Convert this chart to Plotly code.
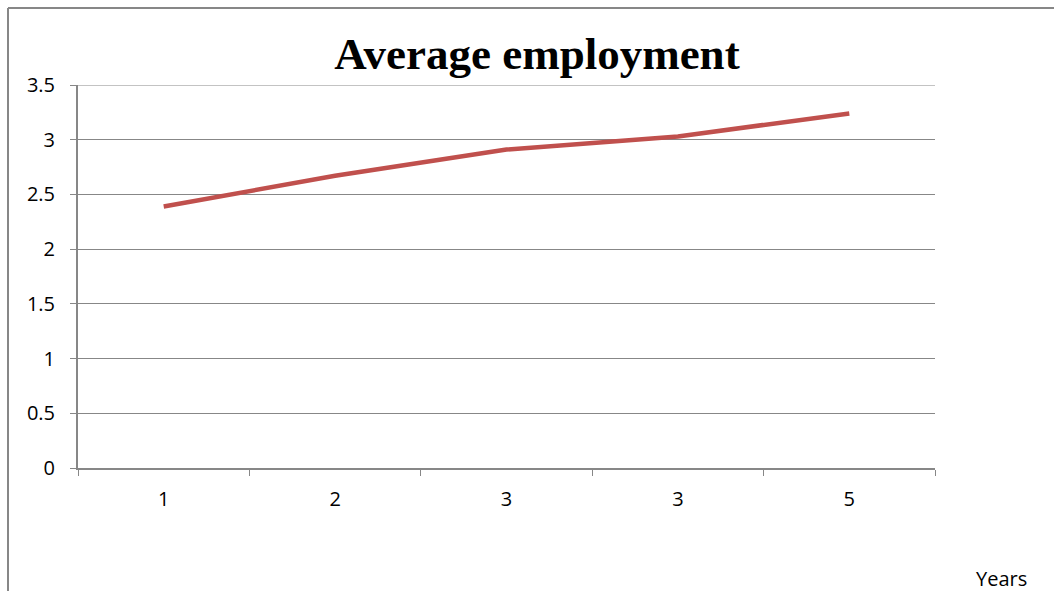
import plotly.graph_objects as go

# Data
years = ["1", "2", "3", "3", "5"]
employment = [2.39, 2.67, 2.91, 3.03, 3.24]
y_ticks = [0, 0.5, 1, 1.5, 2, 2.5, 3, 3.5]
y_labels = ["0", "0.5", "1", "1.5", "2", "2.5", "3", "3.5"]

positions = list(range(len(years)))
boundaries = [p - 0.5 for p in positions] + [positions[-1] + 0.5]

GRID = "#878787"
LABEL_FONT = dict(family="Open Sans, Liberation Sans, sans-serif", size=20, color="#000000")

fig = go.Figure()
fig.add_trace(go.Scatter(
    x=positions,
    y=employment,
    mode="lines",
    line=dict(color="#C0504D", width=4.5),
    showlegend=False,
    hoverinfo="skip",
))

W, H = 1054, 591
L, R, T, B = 78, 119, 85, 123
pw, ph = W - L - R, H - T - B


def px_x(x):
    return (x - L) / pw


def px_y(y):
    return (H - B - y) / ph


fig.update_layout(
    width=W,
    height=H,
    margin=dict(l=L, r=R, t=T, b=B),
    paper_bgcolor="white",
    plot_bgcolor="white",
    title=dict(
        text="<b>Average employment</b>",
        font=dict(family="Liberation Serif, DejaVu Serif, serif", size=45, color="#000000"),
        x=537 / W, xref="container", xanchor="center",
        y=1 - 53 / H, yref="container", yanchor="middle",
    ),
    xaxis=dict(
        range=[boundaries[0], boundaries[-1]],
        tickmode="array",
        tickvals=positions,
        ticktext=years,
        ticks="",
        showgrid=False,
        zeroline=False,
        showline=True,
        linecolor=GRID,
        linewidth=2,
        tickfont=LABEL_FONT,
        ticklabelstandoff=12,
        minor=dict(tickmode="array", tickvals=boundaries, ticks="outside",
                   ticklen=6, tickcolor=GRID, tickwidth=1, showgrid=False),
        fixedrange=True,
    ),
    yaxis=dict(
        range=[0, 3.5],
        tickmode="array",
        tickvals=y_ticks,
        ticktext=y_labels,
        ticks="outside",
        ticklen=6,
        tickcolor=GRID,
        showgrid=True,
        gridcolor=GRID,
        gridwidth=1,
        zeroline=False,
        showline=True,
        linecolor=GRID,
        linewidth=2,
        tickfont=LABEL_FONT,
        ticklabelstandoff=11,
        fixedrange=True,
    ),
    annotations=[
        dict(text="Years", x=px_x(1002), y=px_y(578), xref="paper", yref="paper",
             xanchor="center", yanchor="middle", showarrow=False, font=LABEL_FONT),
    ],
    shapes=[
        # top gridline at the end of the value range
        dict(type="line", xref="paper", yref="y",
             x0=0, x1=1, y0=y_ticks[-1], y1=y_ticks[-1],
             line=dict(color=GRID, width=1)),
        # chart frame (left and top edges)
        dict(type="line", xref="paper", yref="paper",
             x0=px_x(8), x1=px_x(8), y0=px_y(8), y1=px_y(600),
             line=dict(color=GRID, width=2)),
        dict(type="line", xref="paper", yref="paper",
             x0=px_x(8), x1=px_x(1060), y0=px_y(8), y1=px_y(8),
             line=dict(color=GRID, width=2)),
    ],
)

fig.write_html("out.html")
